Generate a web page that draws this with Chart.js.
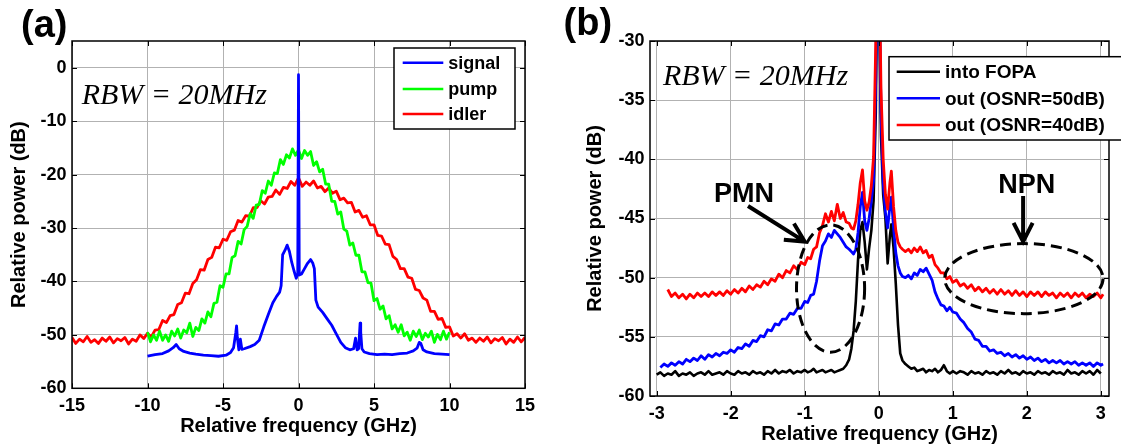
<!DOCTYPE html>
<html><head><meta charset="utf-8">
<script src="https://cdn.jsdelivr.net/npm/chart.js@4.4.1/dist/chart.umd.min.js"></script>
<style>
html,body{margin:0;padding:0;background:#fff;}
#wrap{position:relative;width:1121px;height:448px;overflow:hidden;background:#fff}
#ca{position:absolute;left:0;top:0;width:560px;height:448px}
#cb{position:absolute;left:560px;top:0;width:561px;height:448px}
</style></head><body>
<div id="wrap"><canvas id="ca" width="560" height="448"></canvas><canvas id="cb" width="561" height="448"></canvas></div>
<script>
// ---------------- Panel (a) data ----------------
const xTicksA = [-15,-10,-5,0,5,10,15];
const yTicksA = [-60,-50,-40,-30,-20,-10,0];
const legendA = ['signal','pump','idler'];

const idlerFreq = [-15,-14.75,-14.5,-14.25,-14,-13.75,-13.5,-13.25,-13,-12.75,-12.5,-12.25,-12,-11.75,-11.5,-11.25,-11,-10.75,-10.5,-10.25,-10,-9.75,-9.5,-9.25,-9,-8.75,-8.5,-8.25,-8,-7.75,-7.5,-7.25,-7,-6.75,-6.5,-6.25,-6,-5.75,-5.5,-5.25,-5,-4.75,-4.5,-4.25,-4,-3.75,-3.5,-3.25,-3,-2.75,-2.5,-2.25,-2,-1.75,-1.5,-1.25,-1,-0.75,-0.5,-0.25,0,0.25,0.5,0.75,1,1.25,1.5,1.75,2,2.25,2.5,2.75,3,3.25,3.5,3.75,4,4.25,4.5,4.75,5,5.25,5.5,5.75,6,6.25,6.5,6.75,7,7.25,7.5,7.75,8,8.25,8.5,8.75,9,9.25,9.5,9.75,10,10.25,10.5,10.75,11,11.25,11.5,11.75,12,12.25,12.5,12.75,13,13.25,13.5,13.75,14,14.25,14.5,14.75,15];
const idlerDb = [-50.5,-51.6,-50.8,-51.3,-50.3,-51.4,-50.9,-51.6,-50.6,-51.2,-50.4,-51.5,-50.7,-51.1,-50.5,-51.7,-50.8,-51.2,-50.0,-50.7,-49.7,
-50.4,-49.1,-49.0,-47.3,-47.7,-46.4,-46.2,-44.3,-44.0,-42.2,-42.3,-40.4,-39.7,-37.8,-37.9,-35.9,-35.5,-33.6,-33.7,-32.1,
-32.3,-30.7,-30.4,-28.6,-28.9,-27.7,-27.8,-26.2,-26.2,-24.9,-25.5,-24.2,-24.1,-22.9,-23.7,-22.4,-22.6,-21.3,-22.0,-20.6,
-22.2,-21.4,-22.0,-21.2,-22.5,-22.2,-23.2,-22.5,-23.5,-23.1,-24.7,-24.4,-25.3,-25.2,-27.0,-26.7,-28.0,-27.7,-29.4,-29.4,
-31.4,-31.5,-33.0,-33.1,-35.3,-35.9,-37.6,-37.6,-39.2,-39.4,-41.5,-41.7,-43.1,-43.5,-45.6,-45.6,-47.1,-46.9,-48.6,-48.5,
-50.2,-49.8,-50.6,-49.8,-51.0,-50.6,-51.4,-50.6,-51.2,-50.4,-51.5,-50.7,-51.1,-50.5,-51.7,-50.8,-51.4,-50.4,-51.3,-50.5];

const pumpFreq = [-10,-9.8,-9.6,-9.4,-9.2,-9,-8.8,-8.6,-8.4,-8.2,-8,-7.8,-7.6,-7.4,-7.2,-7,-6.8,-6.6,-6.4,-6.2,-6,-5.8,-5.6,-5.4,-5.2,-5,-4.8,-4.6,-4.4,-4.2,-4,-3.8,-3.6,-3.4,-3.2,-3,-2.8,-2.6,-2.4,-2.2,-2,-1.8,-1.6,-1.4,-1.2,-1,-0.8,-0.6,-0.4,-0.2,0,0.2,0.4,0.6,0.8,1,1.2,1.4,1.6,1.8,2,2.2,2.4,2.6,2.8,3,3.2,3.4,3.6,3.8,4,4.2,4.4,4.6,4.8,5,5.2,5.4,5.6,5.8,6,6.2,6.4,6.6,6.8,7,7.2,7.4,7.6,7.8,8,8.2,8.4,8.6,8.8,9,9.2,9.4,9.6,9.8,10];
const pumpDb = [-49.5,-51.3,-50.0,-51.0,-49.3,-51.0,-50.0,-51.2,-49.3,-50.2,
-48.9,-50.6,-49.1,-49.6,-47.8,-50.3,-48.6,-49.2,-47.0,-47.8,
-45.7,-46.6,-44.1,-43.9,-40.8,-41.1,-38.6,-38.6,-35.5,-35.2,
-32.5,-33.0,-30.3,-29.7,-27.3,-28.2,-25.7,-25.6,-23.0,-23.5,
-21.2,-22.0,-19.7,-19.8,-17.2,-18.1,-16.3,-16.9,-15.2,-16.4,
-15.4,-17.0,-15.5,-16.4,-15.7,-18.3,-17.6,-19.5,-19.0,-21.8,
-21.8,-25.0,-25.0,-27.4,-27.0,-30.2,-30.6,-33.2,-32.8,-35.1,
-35.1,-38.2,-38.2,-40.2,-40.3,-43.6,-43.2,-45.2,-44.6,-47.0,
-46.4,-48.9,-48.1,-49.5,-48.1,-50.2,-49.5,-51.0,-49.3,-50.3,
-49.1,-50.9,-49.7,-50.4,-49.3,-51.4,-49.9,-50.9,-49.3,-50.8,
-49.5];

const signalFreq = [-10,-9.5,-9,-8.6,-8.3,-8.1,-7.9,-7.6,-7.2,-6.8,
-6.3,-5.8,-5.3,-4.8,-4.5,-4.3,-4.15,-4.1,-4.05,-3.95,
-3.85,-3.75,-3.6,-3.2,-2.9,-2.6,-2.3,-2.0,-1.7,-1.45,
-1.25,-1.15,-1.05,-0.9,-0.75,-0.6,-0.45,-0.3,-0.15,-0.05,
0,0.05,0.2,0.4,0.6,0.8,0.95,1.05,1.15,1.3,
1.6,1.9,2.2,2.5,2.8,3.1,3.4,3.65,3.78,3.88,
3.98,4.08,4.12,4.2,4.35,4.7,5.2,5.7,6.2,6.7,
7.2,7.6,7.85,8.0,8.1,8.25,8.5,9.0,9.5,10];
const signalDb = [-54.0,-53.7,-53.5,-53.0,-52.4,-51.8,-52.6,-53.1,-53.4,-53.6,
-53.8,-53.9,-54.0,-53.8,-53.3,-52.4,-49.5,-48.3,-50.5,-52.8,
-50.8,-52.7,-52.6,-52.2,-51.8,-51.0,-48.5,-46.2,-44.0,-42.8,
-42.0,-40.8,-35.0,-34.2,-33.2,-34.4,-36.4,-38.0,-39.4,-38.6,
-1.3,-38.8,-38.6,-37.6,-36.6,-35.9,-36.6,-37.6,-43.5,-44.8,
-45.8,-47.0,-48.2,-49.8,-51.4,-52.4,-52.8,-52.6,-50.6,-52.8,
-52.6,-47.8,-49.5,-52.6,-53.2,-53.5,-53.7,-53.6,-53.7,-53.5,
-53.4,-53.0,-52.5,-51.4,-51.6,-52.8,-53.2,-53.5,-53.6,-53.7];

// ---------------- Panel (b) data ----------------
const xTicksB = [-3,-2,-1,0,1,2,3];
const yTicksB = [-60,-55,-50,-45,-40,-35,-30];
const legendB = ['into FOPA','out (OSNR=50dB)','out (OSNR=40dB)'];

const freqB = [-3,-2.95,-2.9,-2.85,-2.8,-2.75,-2.7,-2.65,-2.6,-2.55,-2.5,-2.45,-2.4,-2.35,-2.3,-2.25,-2.2,-2.15,-2.1,-2.05,-2,-1.95,-1.9,-1.85,-1.8,-1.75,-1.7,-1.65,-1.6,-1.55,-1.5,-1.45,-1.4,-1.35,-1.3,-1.25,-1.2,-1.15,-1.1,-1.05,
-1,-0.96,-0.92,-0.88,-0.84,-0.8,-0.76,-0.72,-0.68,-0.64,-0.6,-0.56,-0.52,-0.48,-0.44,-0.4,
-0.37,-0.34,-0.31,-0.28,-0.25,-0.22,-0.19,-0.16,-0.13,-0.1,-0.07,-0.04,-0.02,0,0.03,0.06,0.09,0.12,0.15,0.17,0.2,0.23,0.26,0.29,0.32,0.36,
0.4,0.44,0.48,0.52,0.56,0.6,0.64,0.68,0.72,0.76,0.8,0.84,0.88,0.92,0.96,1,
1.05,1.1,1.15,1.2,1.25,1.3,1.35,1.4,1.45,1.5,1.55,1.6,1.65,1.7,1.75,1.8,1.85,1.9,1.95,2,2.05,2.1,2.15,2.2,2.25,2.3,2.35,2.4,2.45,2.5,2.55,2.6,2.65,2.7,2.75,2.8,2.85,2.9,2.95,3,3.03];

const intoFopaDb = [-58.2,-58.0,-58.3,-58.1,-58.2,-57.9,-58.3,-58.1,-58.2,-58.0,-58.3,-58.1,-58.0,-58.2,-57.9,-58.2,-58.1,-58.0,-58.2,-57.9,-58.1,-58.2,-57.9,-58.1,-58.0,-58.2,-57.9,-58.1,-58.0,-58.2,-57.9,-58.1,-57.8,-58.1,-57.9,-58.0,-57.8,-58.1,-57.9,-58.0,
-57.8,-58.0,-57.9,-57.7,-58.0,-57.9,-57.8,-58.0,-57.9,-57.8,-58.0,-57.9,-57.8,-57.7,-57.4,-56.9,
-56.0,-54.5,-52.0,-48.5,-46.0,-45.3,-47.0,-49.3,-47.5,-46.0,-43.5,-36.0,-24.0,-24.0,-38.0,-43.0,-45.0,-48.8,-46.5,-45.5,-47.5,-50.5,-54.0,-56.4,-57.0,-57.3,
-57.5,-57.7,-57.6,-57.9,-57.8,-57.7,-58.0,-57.8,-57.9,-57.7,-58.0,-57.8,-57.4,-57.9,-58.1,-57.9,
-58.1,-57.9,-58.0,-58.2,-57.9,-58.1,-58.0,-58.2,-57.9,-58.1,-58.0,-58.2,-57.9,-58.1,-57.8,-58.1,-58.0,-58.2,-57.9,-58.1,-58.0,-58.2,-57.9,-58.1,-58.0,-58.2,-57.9,-58.1,-58.0,-58.2,-57.8,-58.1,-58.0,-58.2,-57.9,-58.1,-57.9,-58.2,-57.8,-58.1,null];

const out50Db = [null,-57.6,-57.3,-57.5,-57.2,-57.4,-57.1,-57.3,-56.9,-57.1,-56.8,-57.0,-56.6,-56.9,-56.5,-56.7,-56.4,-56.6,-56.3,-56.4,-56.1,-56.3,-55.9,-56.0,-55.6,-55.8,-55.3,-55.4,-54.9,-55.0,-54.4,-54.5,-53.9,-54.0,-53.5,-53.5,-53.0,-53.1,-52.6,-52.6,
-52.0,-52.1,-51.5,-51.4,-50.3,-48.6,-47.3,-46.9,-46.3,-46.6,-46.0,-46.3,-46.6,-47.0,-47.4,-47.6,
-47.8,-48.0,-47.6,-46.2,-44.0,-42.8,-45.2,-46.0,-45.0,-43.5,-41.8,-33.0,-22.0,-22.0,-36.0,-42.0,-44.5,-45.8,-44.0,-43.2,-45.8,-47.9,-49.0,-49.6,-49.9,-50.0,
-49.8,-50.1,-49.6,-49.8,-49.3,-49.5,-49.2,-49.7,-50.2,-51.2,-51.8,-52.3,-52.4,-52.8,-52.5,-52.9,
-53.0,-53.5,-53.8,-54.3,-54.6,-55.2,-55.3,-55.8,-55.8,-56.2,-56.1,-56.4,-56.3,-56.6,-56.4,-56.7,-56.5,-56.8,-56.6,-56.9,-56.7,-57.0,-56.8,-57.1,-56.9,-57.2,-57.0,-57.2,-57.0,-57.3,-57.1,-57.3,-57.1,-57.4,-57.2,-57.4,-57.2,-57.5,-57.2,-57.4,-57.3];

const out40Db = [null,null,null,-51.0,-51.6,-51.3,-51.7,-51.4,-51.8,-51.4,-51.7,-51.3,-51.6,-51.3,-51.6,-51.2,-51.5,-51.2,-51.5,-51.1,-51.4,-51.0,-51.3,-50.9,-51.2,-50.7,-51.0,-50.6,-50.8,-50.3,-50.6,-50.1,-50.3,-49.7,-50.0,-49.4,-49.6,-49.0,-49.3,-48.7,
-48.9,-48.3,-48.4,-47.6,-47.4,-46.2,-45.6,-44.6,-45.3,-44.4,-45.2,-43.8,-45.0,-44.5,-45.3,-45.4,
-45.8,-45.9,-45.2,-43.8,-42.0,-40.9,-43.5,-44.3,-43.6,-42.2,-39.8,-30.0,-20.0,-20.0,-34.0,-40.0,-43.0,-44.2,-42.0,-41.0,-44.0,-46.0,-47.0,-47.4,-47.6,-47.8,
-47.6,-47.9,-47.5,-47.8,-47.4,-47.9,-47.7,-48.3,-48.1,-48.9,-49.2,-49.6,-49.6,-50.1,-49.9,-50.4,
-50.2,-50.7,-50.5,-50.9,-50.6,-51.1,-50.8,-51.2,-50.9,-51.3,-51.0,-51.4,-51.0,-51.4,-51.1,-51.5,-51.1,-51.5,-51.2,-51.6,-51.2,-51.5,-51.2,-51.6,-51.2,-51.5,-51.3,-51.7,-51.3,-51.6,-51.3,-51.7,-51.3,-51.6,-51.3,-51.7,-51.4,-51.6,-51.3,-51.7,-51.4];

// ---------------- rendering ----------------
const SANS = "'Liberation Sans', Arial, Helvetica, sans-serif";
const SERIF = "'Liberation Serif', 'Times New Roman', serif";
const GRID = '#b2b2b2';

function pts(xs, ys) { return xs.map((x, i) => ({ x: x, y: ys[i] })); }

function lineDs(label, xs, ys, color, order, width) {
  return { label, data: pts(xs, ys), borderColor: color, backgroundColor: color,
    borderWidth: width, pointRadius: 0, tension: 0, order, borderJoinStyle: 'round', spanGaps: false };
}

function drawArrow(ctx, x0, y0, x1, y1) {
  const ang = Math.atan2(y1 - y0, x1 - x0);
  const L = 21, h = 27 * Math.PI / 180;
  ctx.beginPath();
  ctx.moveTo(x0, y0); ctx.lineTo(x1, y1);
  ctx.moveTo(x1 - L * Math.cos(ang - h), y1 - L * Math.sin(ang - h));
  ctx.lineTo(x1, y1);
  ctx.lineTo(x1 - L * Math.cos(ang + h), y1 - L * Math.sin(ang + h));
  ctx.stroke();
}

function makePanelPlugin(o) {
  return {
    id: 'panelDecor',
    afterDraw(chart) {
      const ctx = chart.ctx, a = chart.chartArea, sx = chart.scales.x, sy = chart.scales.y;
      ctx.save();
      ctx.strokeStyle = '#000'; ctx.lineWidth = 1;
      ctx.beginPath();
      o.xTicks.forEach(v => { const p = Math.round(sx.getPixelForValue(v)) + 0.5;
        ctx.moveTo(p, a.bottom); ctx.lineTo(p, a.bottom - 5); ctx.moveTo(p, a.top); ctx.lineTo(p, a.top + 5); });
      o.yTicks.forEach(v => { const p = Math.round(sy.getPixelForValue(v)) + 0.5;
        ctx.moveTo(a.left, p); ctx.lineTo(a.left + 5, p); ctx.moveTo(a.right, p); ctx.lineTo(a.right - 5, p); });
      ctx.stroke();
      ctx.lineWidth = 1.5;
      ctx.strokeRect(a.left, a.top, a.right - a.left, a.bottom - a.top);
      ctx.fillStyle = '#000'; ctx.textAlign = 'left'; ctx.textBaseline = 'alphabetic';
      ctx.font = `italic 30px ${SERIF}`;
      ctx.fillText('RBW = 20MHz', sx.getPixelForValue(o.rbw[0]), sy.getPixelForValue(o.rbw[1]));
      if (o.extra) o.extra(ctx, a, sx, sy);
      const L = o.legend;
      const bl = a.right + L.left, bt = a.top + L.top, br = a.right + L.right, bb = a.top + L.bottom;
      ctx.fillStyle = '#fff'; ctx.fillRect(bl, bt, br - bl, bb - bt);
      ctx.strokeStyle = '#000'; ctx.lineWidth = 1.5; ctx.setLineDash([]);
      ctx.strokeRect(bl, bt, br - bl, bb - bt);
      ctx.font = `bold ${L.font}px ${SANS}`; ctx.textBaseline = 'middle'; ctx.textAlign = 'left';
      L.labels.forEach((lab, i) => {
        const y = bt + L.rows[i];
        ctx.strokeStyle = L.colors[i]; ctx.lineWidth = 2.5;
        ctx.beginPath(); ctx.moveTo(bl + L.line0, y); ctx.lineTo(bl + L.line1, y); ctx.stroke();
        ctx.fillStyle = '#000'; ctx.fillText(lab, bl + L.text, y + 1);
      });
      ctx.font = `bold 38px ${SANS}`; ctx.fillStyle = '#000'; ctx.textBaseline = 'alphabetic'; ctx.textAlign = 'left';
      ctx.fillText(o.letter[0], o.letter[1], o.letter[2]);
      ctx.restore();
    }
  };
}

function baseOptions(p) {
  return {
    responsive: false, animation: false, devicePixelRatio: 1,
    layout: { padding: { left: 0, right: p.padRight, top: 41, bottom: 0 } },
    plugins: { legend: { display: false }, tooltip: { enabled: false } },
    scales: {
      x: {
        type: 'linear', min: p.xmin, max: p.xmax,
        afterBuildTicks: s => { s.ticks = p.xTicks.map(v => ({ value: v })); },
        afterFit: s => { s.height = p.xHeight; },
        grid: { color: GRID, lineWidth: 1, drawTicks: false },
        border: { display: false },
        ticks: { color: '#000', padding: p.xPad, maxRotation: 0, autoSkip: false,
          font: { family: SANS, size: 18, weight: 'bold' }, callback: v => String(v) },
        title: { display: true, text: 'Relative frequency (GHz)', color: '#000',
          font: { family: SANS, size: 20, weight: 'bold' }, padding: { top: 0, bottom: p.xTitlePad } }
      },
      y: {
        type: 'linear', min: p.ymin, max: p.ymax,
        afterBuildTicks: s => { s.ticks = p.yTicks.map(v => ({ value: v })); },
        afterFit: s => { s.width = p.yWidth; },
        grid: { color: GRID, lineWidth: 1, drawTicks: false },
        border: { display: false },
        ticks: { color: '#000', padding: 5.5, autoSkip: false,
          font: { family: SANS, size: 18, weight: 'bold' }, callback: v => String(v) },
        title: { display: true, text: 'Relative power (dB)', color: '#000',
          font: { family: SANS, size: 20, weight: 'bold' }, padding: { top: p.yTitlePad, bottom: 0 } }
      }
    }
  };
}

new Chart(document.getElementById('ca'), {
  type: 'line',
  data: { datasets: [
    lineDs('signal', signalFreq, signalDb, '#0000ff', 1, 2.8),
    lineDs('pump', pumpFreq, pumpDb, '#00ff00', 2, 2.8),
    lineDs('idler', idlerFreq, idlerDb, '#ff0000', 3, 2.8)
  ] },
  options: baseOptions({ padRight: 35, xmin: -15, xmax: 15, ymin: -60, ymax: 5,
    xTicks: xTicksA, yTicks: yTicksA, xHeight: 59.7, yWidth: 72, xPad: 7.3, xTitlePad: 9.7, yTitlePad: 7 }),
  plugins: [makePanelPlugin({
    xTicks: xTicksA, yTicks: yTicksA, rbw: [-14.36, -6.79], letter: ['(a)', 21, 37],
    legend: { labels: legendA, colors: ['#0000ff', '#00ff00', '#ff0000'],
      left: -131, right: -10, top: 7, bottom: 88, rows: [14.7, 41, 66], line0: 8.7, line1: 49.3, text: 54.3, font: 18 }
  })]
});

new Chart(document.getElementById('cb'), {
  type: 'line',
  data: { datasets: [
    lineDs('into FOPA', freqB, intoFopaDb, '#000000', 3, 2.6),
    lineDs('out (OSNR=50dB)', freqB, out50Db, '#0000ff', 2, 2.8),
    lineDs('out (OSNR=40dB)', freqB, out40Db, '#ff0000', 1, 2.8)
  ] },
  options: baseOptions({ padRight: 12, xmin: -3.09, xmax: 3.11, ymin: -60, ymax: -30,
    xTicks: xTicksB, yTicks: yTicksB, xHeight: 52, yWidth: 90, xPad: 7.2, xTitlePad: 1.3, yTitlePad: 23 }),
  plugins: [makePanelPlugin({
    xTicks: xTicksB, yTicks: yTicksB, rbw: [-2.915, -33.72], letter: ['(b)', 3.6, 35.3],
    legend: { labels: legendB, colors: ['#000000', '#0000ff', '#ff0000'],
      left: -220, right: 40, top: 15.7, bottom: 99, rows: [15, 41.6, 68.3], line0: 7.7, line1: 51, text: 56, font: 19 },
    extra: (ctx, a, sx, sy) => {
      ctx.strokeStyle = '#000'; ctx.fillStyle = '#000';
      ctx.lineWidth = 3; ctx.setLineDash([11, 6]);
      [[-0.651, -50.92, 0.46, 5.38], [1.96, -50.08, 1.07, 2.96]].forEach(e => {
        const cx = sx.getPixelForValue(e[0]), cy = sy.getPixelForValue(e[1]);
        const rx = Math.abs(sx.getPixelForValue(e[0] + e[2]) - cx), ry = Math.abs(sy.getPixelForValue(e[1] + e[3]) - cy);
        ctx.beginPath(); ctx.ellipse(cx, cy, rx, ry, 0, 0, 2 * Math.PI); ctx.stroke();
      });
      ctx.setLineDash([]);
      ctx.lineWidth = 4; ctx.lineCap = 'butt'; ctx.lineJoin = 'miter';
      drawArrow(ctx, sx.getPixelForValue(-1.766), sy.getPixelForValue(-43.94), sx.getPixelForValue(-1.0), sy.getPixelForValue(-46.95));
      drawArrow(ctx, sx.getPixelForValue(1.95), sy.getPixelForValue(-43.09), sx.getPixelForValue(1.95), sy.getPixelForValue(-46.95));
      ctx.font = `bold 27px ${SANS}`; ctx.textAlign = 'center'; ctx.textBaseline = 'alphabetic';
      ctx.fillText('PMN', sx.getPixelForValue(-1.82), sy.getPixelForValue(-43.57));
      ctx.fillText('NPN', sx.getPixelForValue(2.0), sy.getPixelForValue(-42.81));
    }
  })]
});
</script>
</body></html>
